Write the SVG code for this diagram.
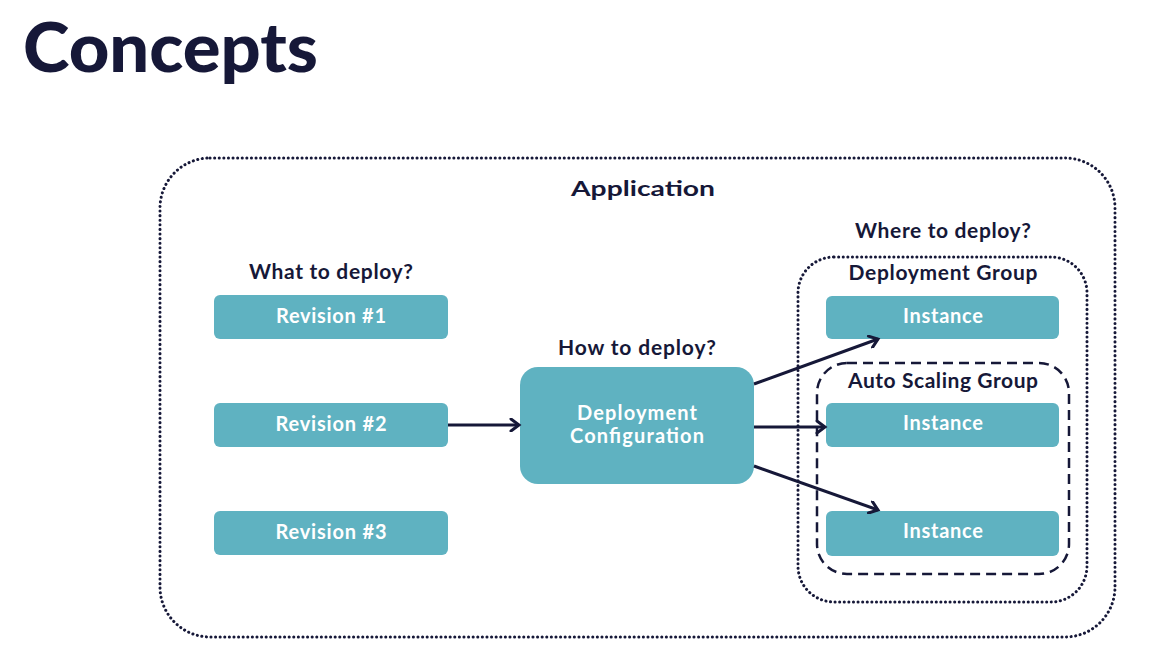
<svg xmlns="http://www.w3.org/2000/svg" width="1166" height="659" viewBox="0 0 1166 659">
<defs>
<style>
.box{fill:#5fb2c1;}
.wt{fill:#ffffff;font-family:Lato,"Open Sans",sans-serif;font-weight:700;font-size:20px;text-anchor:middle;}
.lb{fill:#161838;font-family:Lato,"Open Sans",sans-serif;font-weight:700;font-size:21px;text-anchor:middle;}
.dot{fill:none;stroke:#161838;stroke-width:3;stroke-dasharray:0.1 4.5;stroke-linecap:round;}
.dash{fill:none;stroke:#161838;stroke-width:2.5;stroke-dasharray:10 6;}
.conn{stroke:#161838;stroke-width:3;fill:none;}
</style>
<marker id="arr" markerWidth="14" markerHeight="14" refX="11" refY="7" orient="auto" markerUnits="userSpaceOnUse">
<path d="M3,1 L11,7 L3,13" fill="none" stroke="#161838" stroke-width="3" stroke-linecap="round"/>
</marker>
</defs>
<rect width="1166" height="659" fill="#ffffff"/>
<text x="23" y="72" fill="#161838" font-family="Lato,'Open Sans',sans-serif" font-weight="900" font-size="68" textLength="295" lengthAdjust="spacingAndGlyphs">Concepts</text>

<g id="application">
<rect class="dot" x="160" y="158" width="955" height="479" rx="50"/>
<text class="lb" x="643" y="196" font-size="27" textLength="144" lengthAdjust="spacingAndGlyphs">Application</text>
</g>
<text class="lb" x="331" y="279" textLength="164">What to deploy?</text>
<text class="lb" x="637" y="355" textLength="158">How to deploy?</text>
<text class="lb" x="943" y="238" textLength="176">Where to deploy?</text>

<g id="deployment-group">
<rect class="dot" x="798" y="257" width="289" height="345" rx="36"/>
<text class="lb" x="943" y="280" textLength="189">Deployment Group</text>
</g>
<g id="auto-scaling-group">
<rect class="dash" x="817" y="363" width="252" height="211" rx="30"/>
<text class="lb" x="943" y="388" textLength="190">Auto Scaling Group</text>
</g>

<g id="revision1"><rect class="box" x="214" y="295" width="234" height="44" rx="6"/><text class="wt" x="331" y="323" textLength="110">Revision #1</text></g>
<g id="revision2"><rect class="box" x="214" y="403" width="234" height="44" rx="6"/><text class="wt" x="331" y="431" textLength="111">Revision #2</text></g>
<g id="revision3"><rect class="box" x="214" y="511" width="234" height="44" rx="6"/><text class="wt" x="331" y="539" textLength="111">Revision #3</text></g>

<g id="deployment-config"><rect class="box" x="520" y="367" width="234" height="117" rx="18"/>
<text class="wt" x="637" y="420" textLength="120">Deployment</text><text class="wt" x="637" y="443" textLength="134">Configuration</text></g>

<g id="instance1"><rect class="box" x="826" y="296" width="233" height="43" rx="6"/><text class="wt" x="943" y="323" textLength="80">Instance</text></g>
<g id="instance2"><rect class="box" x="826" y="403" width="233" height="44" rx="6"/><text class="wt" x="943" y="430" textLength="80">Instance</text></g>
<g id="instance3"><rect class="box" x="826" y="511" width="233" height="45" rx="6"/><text class="wt" x="943" y="538" textLength="80">Instance</text></g>

<g id="connectors">
<line class="conn" x1="448" y1="425" x2="519" y2="425" marker-end="url(#arr)"/>
<line class="conn" x1="754" y1="384" x2="878" y2="339" marker-end="url(#arr)"/>
<line class="conn" x1="754" y1="427" x2="825" y2="427" marker-end="url(#arr)"/>
<line class="conn" x1="754" y1="466" x2="878" y2="510" marker-end="url(#arr)"/>
</g>
</svg>
